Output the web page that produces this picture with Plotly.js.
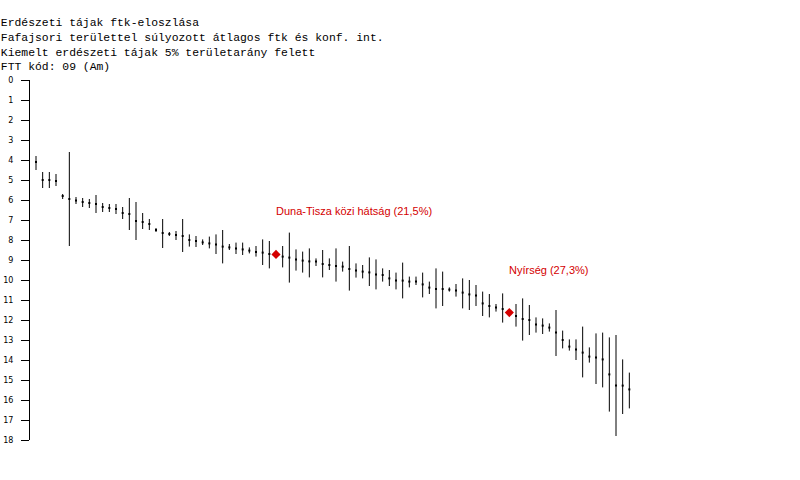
<!DOCTYPE html>
<html>
<head>
<meta charset="utf-8">
<script src="https://cdn.plot.ly/plotly-3.0.1.min.js"></script>
<style>
body { margin: 0; background: #fff; }
#chart { width: 800px; height: 480px; }
</style>
</head>
<body>
<div id="chart"></div>
<script>
var titleLines = [
	'Erdészeti tájak ftk-eloszlása',
	'Fafajsori területtel súlyozott átlagos ftk és konf. int.',
	'Kiemelt erdészeti tájak 5% területarány felett',
	'FTT kód: 09 (Am)'
];

// átlagos ftk tájanként (sorrendben)
var ftkMean = [
	4.1, 5.0, 5.0, 5.05, 5.8, 5.95, 6.02, 6.1, 6.15, 6.2,
	6.35, 6.4, 6.45, 6.65, 6.7, 7.05, 7.1, 7.2, 7.5, 7.65,
	7.7, 7.75, 7.8, 8.0, 8.05, 8.12, 8.17, 8.22, 8.33, 8.37,
	8.42, 8.47, 8.53, 8.6, 8.63, 8.7, 8.72, 8.83, 8.88, 8.97,
	9.03, 9.07, 9.08, 9.2, 9.25, 9.3, 9.33, 9.45, 9.53, 9.58,
	9.62, 9.72, 9.75, 9.92, 10.03, 10.03, 10.08, 10.08, 10.22, 10.38,
	10.45, 10.45, 10.48, 10.53, 10.63, 10.72, 10.78, 11.17, 11.3, 11.38,
	11.45, 11.63, 11.8, 11.95, 12.0, 12.22, 12.28, 12.38, 12.63, 13.0,
	13.33, 13.47, 13.63, 13.83, 13.88, 13.97, 14.72, 15.28, 15.28, 15.47
];
// konfidencia intervallum alsó és felső határa
var ftkLow = [
	3.8, 4.6, 4.6, 4.7, 5.7, 3.6, 5.85, 5.9, 5.95, 5.75,
	6.15, 6.2, 6.2, 6.35, 5.9, 6.1, 6.65, 6.95, 7.4, 6.95,
	7.6, 7.55, 6.95, 7.72, 7.8, 7.97, 7.83, 7.72, 7.5, 8.2,
	8.13, 8.13, 8.37, 8.3, 7.97, 8.05, 8.72, 8.3, 7.63, 8.47,
	8.58, 8.42, 8.92, 8.5, 8.92, 8.42, 9.08, 8.3, 9.17, 9.25,
	8.87, 8.97, 9.42, 9.5, 9.63, 9.13, 9.83, 9.83, 9.63, 10.08,
	9.42, 9.58, 10.37, 10.2, 9.92, 10.0, 10.25, 10.58, 10.7, 11.2,
	10.67, 11.63, 11.2, 10.92, 11.25, 11.87, 11.92, 12.17, 11.5, 12.53,
	12.97, 12.97, 12.33, 13.37, 12.67, 12.63, 12.87, 12.75, 13.97, 14.63
];
var ftkHigh = [
	4.5, 5.4, 5.4, 5.3, 5.95, 8.3, 6.2, 6.35, 6.4, 6.65,
	6.6, 6.6, 6.7, 6.95, 7.5, 8.0, 7.45, 7.5, 7.6, 8.4,
	7.8, 8.0, 8.6, 8.33, 8.35, 8.25, 8.42, 8.7, 9.17, 8.5,
	8.7, 8.75, 8.67, 8.83, 9.25, 9.42, 8.72, 9.37, 10.13, 9.53,
	9.63, 9.87, 9.3, 9.87, 9.5, 10.08, 9.58, 10.53, 9.88, 9.92,
	10.3, 10.47, 10.08, 10.3, 10.47, 10.92, 10.37, 10.25, 10.87, 10.7,
	11.42, 11.3, 10.58, 10.83, 11.42, 11.5, 11.3, 11.8, 11.87, 11.58,
	12.13, 11.63, 12.33, 13.03, 12.75, 12.63, 12.7, 12.58, 13.8, 13.42,
	13.53, 14.0, 14.87, 14.13, 15.2, 15.37, 16.58, 17.8, 16.7, 16.42
];

// kiemelt tájak
var hlIdx = [36, 71];
var hlNames = ['Duna-Tisza közi hátság', 'Nyírség'];
var hlShare = ['21,5%', '27,3%'];

var yTicks = [0, 1, 2, 3, 4, 5, 6, 7, 8, 9, 10, 11, 12, 13, 14, 15, 16, 17, 18];

var RED = '#d40000';

var idx = [];
var errPlus = [];
var errMinus = [];
for (var i = 0; i < ftkMean.length; i++) {
	idx.push(i);
	errPlus.push(ftkHigh[i] - ftkMean[i]);
	errMinus.push(ftkMean[i] - ftkLow[i]);
}

var main = {
	x: idx,
	y: ftkMean,
	mode: 'markers',
	type: 'scatter',
	marker: {symbol: 'square', size: 2, color: '#000'},
	error_y: {
		type: 'data',
		symmetric: false,
		array: errPlus,
		arrayminus: errMinus,
		color: '#000',
		thickness: 1,
		width: 0
	},
	hoverinfo: 'none'
};

var hx = [], hy = [], notes = [];
for (var k = 0; k < hlIdx.length; k++) {
	hx.push(hlIdx[k]);
	hy.push(ftkMean[hlIdx[k]]);
	notes.push({
		x: hlIdx[k],
		y: ftkMean[hlIdx[k]],
		xref: 'x', yref: 'y',
		text: hlNames[k] + ' (' + hlShare[k] + ')',
		showarrow: false,
		xanchor: 'left',
		yanchor: 'middle',
		xshift: -2,
		yshift: 43,
		font: {family: 'Liberation Sans, Arial, sans-serif', size: 11, color: RED}
	});
}

var highlight = {
	x: hx,
	y: hy,
	mode: 'markers',
	type: 'scatter',
	marker: {symbol: 'diamond', size: 7, color: RED},
	hoverinfo: 'none'
};

var layout = {
	width: 800,
	height: 480,
	margin: {l: 30, r: 100, t: 80, b: 40},
	paper_bgcolor: '#fff',
	plot_bgcolor: '#fff',
	showlegend: false,
	title: {
		text: titleLines.join('<br>'),
		x: 0.001,
		xref: 'container',
		xanchor: 'left',
		y: 1 - 26 / 480,
		yref: 'container',
		yanchor: 'top',
		font: {family: 'Liberation Mono, Courier New, monospace', size: 11.4, color: '#000'}
	},
	xaxis: {
		visible: false,
		range: [-0.9, 99.6],
		fixedrange: true
	},
	yaxis: {
		range: [18, 0],
		tickvals: yTicks,
		ticktext: yTicks.map(String),
		ticks: 'outside',
		ticklen: 8,
		tickwidth: 1,
		tickcolor: '#000',
		ticklabelstandoff: 6,
		showline: true,
		linecolor: '#000',
		linewidth: 1,
		showgrid: false,
		zeroline: false,
		tickfont: {family: 'DejaVu Sans, sans-serif', size: 8, color: '#000'},
		fixedrange: true
	},
	annotations: notes
};

Plotly.newPlot('chart', [main, highlight], layout, {staticPlot: true});
</script>
</body>
</html>
